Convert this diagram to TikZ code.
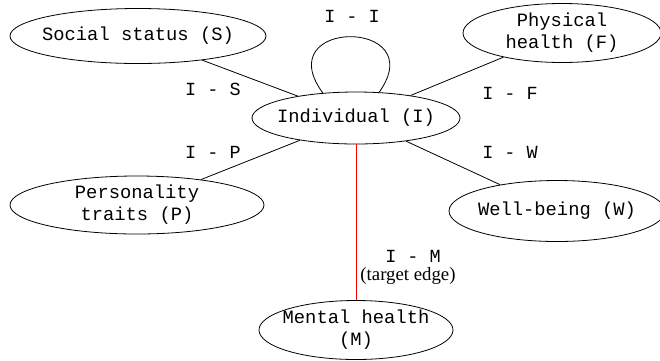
\documentclass[tikz,border=0pt]{standalone}
\usepackage{fontspec}
\setmainfont{Liberation Serif}
\setmonofont{Liberation Mono}
\usetikzlibrary{shapes.geometric}
\begin{document}
\begin{tikzpicture}[x=1pt,y=-1pt,
  ent/.style={draw,ellipse,line width=0.8pt,inner xsep=-40pt,inner ysep=-15pt,align=center,
    font=\fontsize{18.8}{22}\selectfont\ttfamily},
  lbl/.style={font=\fontsize{18.5}{22}\selectfont\ttfamily,inner sep=0pt},
  edge/.style={line width=0.8pt}]
\useasboundingbox (0,0) rectangle (660,360);
\node[ent,minimum width=256pt,minimum height=55pt] (S) at (138,36) {Social status (S)};
\node[ent,minimum width=198pt,minimum height=59pt] (F) at (562,33) {Physical\\health (F)};
\node[ent,minimum width=208pt,minimum height=52pt] (I) at (356,118) {Individual (I)};
\node[ent,minimum width=254pt,minimum height=58pt] (P) at (137,205) {Personality\\traits (P)};
\node[ent,minimum width=216pt,minimum height=61pt] (W) at (557,211) {Well-being (W)};
\node[ent,minimum width=194pt,minimum height=59pt] (M) at (356,330) {Mental health\\(M)};
\draw[edge] (S) -- (I);
\draw[edge] (F) -- (I);
\draw[edge] (P) -- (I);
\draw[edge] (W) -- (I);
\draw[edge,red] (I) -- (M);
\draw[edge] (I.143) .. controls (268,18) and (432,18) .. (I.48);
\node[lbl] (lII) at (352,16) {I - I};
\node[lbl] (lIS) at (213,89) {I - S};
\node[lbl] (lIF) at (510,93) {I - F};
\node[lbl] (lIP) at (213,152) {I - P};
\node[lbl] (lIW) at (510,152) {I - W};
\node[lbl] (lIM) at (413,256) {I - M};
\node[inner sep=0pt,font=\fontsize{18.8}{22}\selectfont] (tgt) at (408,276) {(target edge)};
\end{tikzpicture}
\end{document}
